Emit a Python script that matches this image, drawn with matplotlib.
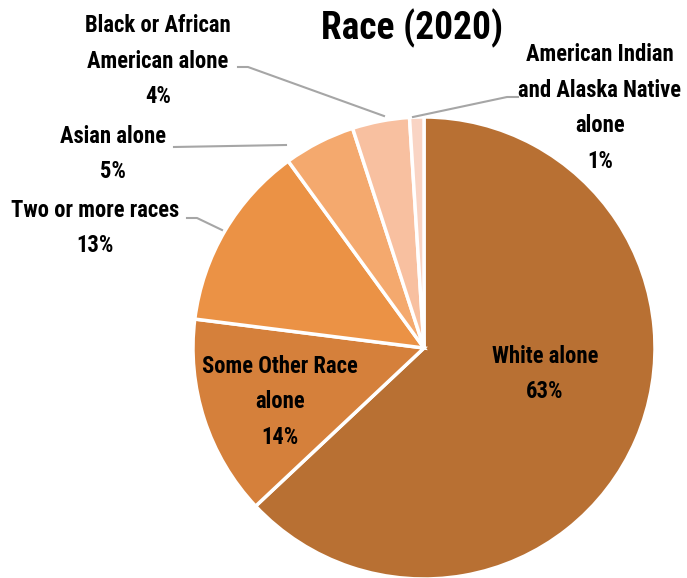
import matplotlib
matplotlib.use("Agg")
import matplotlib.pyplot as plt

# data
categories = ["White alone", "Some Other Race alone", "Two or more races",
              "Asian alone", "Black or African American alone",
              "American Indian and Alaska Native alone"]
shares = [63, 14, 13, 5, 4, 1]
colors = ["#B87033", "#D5803B", "#EB9245", "#F4A96E", "#F8C0A0", "#F9D4C4"]

plt.rcParams["font.family"] = ["Roboto Condensed", "Barlow Condensed", "DejaVu Sans"]

W, H = 687, 578
cx, cy, R = 424, 348, 231

fig = plt.figure(figsize=(W / 100, H / 100), dpi=100)
ax = fig.add_axes([(cx - R) / W, (H - cy - R) / H, 2 * R / W, 2 * R / H])
ax.pie(shares, colors=colors, startangle=90, counterclock=False,
       wedgeprops=dict(edgecolor="white", linewidth=2.5))
ax.set_xlim(-1, 1)
ax.set_ylim(-1, 1)
ax.set_aspect("equal")
ax.axis("off")


def d(px, py):
    return (px - cx) / R, (cy - py) / R


fs = 16.3
kw = dict(ha="center", va="center", fontsize=fs, fontweight="bold",
          linespacing=1.72, clip_on=False)

# inside labels
ax.text(*d(545, 374), "White alone\n63%", **kw)
ax.text(*d(280, 402), "Some Other Race\nalone\n14%", **kw)

# outside labels
ax.text(*d(158, 61), "Black or African\nAmerican alone\n4%", **kw)
ax.text(*d(600, 108), "American Indian\nand Alaska Native\nalone\n1%", **kw)
ax.text(*d(113, 154), "Asian alone\n5%", **kw)
ax.text(*d(95, 228), "Two or more races\n13%", **kw)

lc = "#A6A6A6"
leaders = [
    [(238, 67), (248, 67), (384, 116)],
    [(518, 97), (507, 97), (413, 117)],
    [(174, 147), (286, 145)],
    [(187, 218), (197, 218), (222, 230)],
]
for pts in leaders:
    xs, ys = zip(*[d(*p) for p in pts])
    ax.plot(xs, ys, color=lc, lw=1.5, clip_on=False)

fig.text(412 / W, 1 - 28 / H, "Race (2020)", ha="center", va="center",
         fontsize=27, fontweight="bold")

fig.savefig("out.png", dpi=100)
